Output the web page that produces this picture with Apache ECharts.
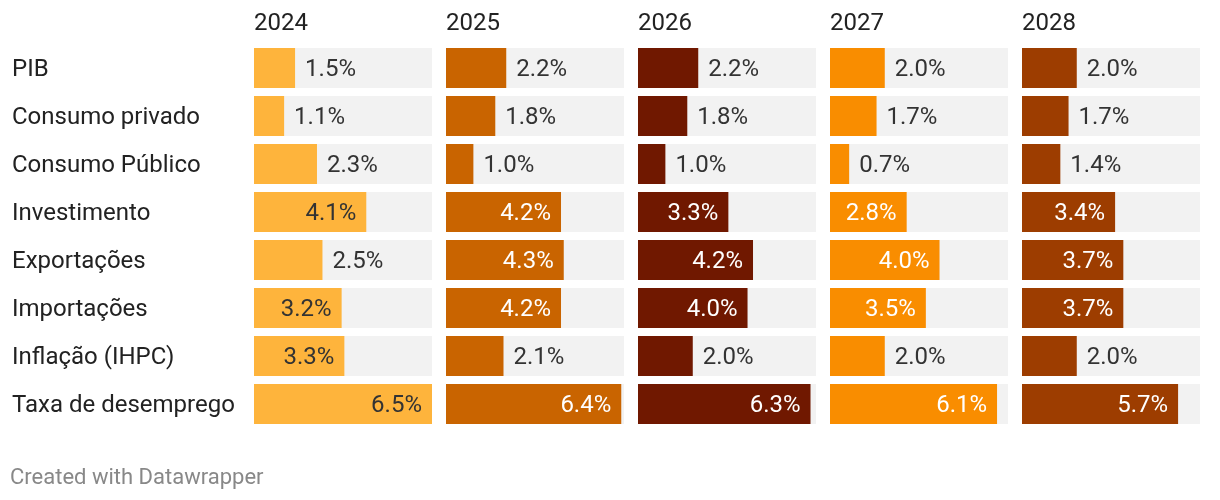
<!DOCTYPE html>
<html><head><meta charset="utf-8">
<script src="https://cdn.jsdelivr.net/npm/echarts@6/dist/echarts.min.js"></script>
<style>html,body{margin:0;padding:0;background:#fff}#c{width:1220px;height:500px}</style>
</head><body><div id="c"></div>
<script>
const categories = ["PIB","Consumo privado","Consumo Público","Investimento","Exportações","Importações","Inflação (IHPC)","Taxa de desemprego"];
const years = ["2024","2025","2026","2027","2028"];
const v2024 = [1.5,1.1,2.3,4.1,2.5,3.2,3.3,6.5];
const v2025 = [2.2,1.8,1.0,4.2,4.3,4.2,2.1,6.4];
const v2026 = [2.2,1.8,1.0,3.3,4.2,4.0,2.0,6.3];
const v2027 = [2.0,1.7,0.7,2.8,4.0,3.5,2.0,6.1];
const v2028 = [2.0,1.7,1.4,3.4,3.7,3.7,2.0,5.7];
const values = [v2024,v2025,v2026,v2027,v2028];
const colors = ["#feb43c","#c96400","#701800","#f98d00","#9d3d00"];
const insideTextColors = ["#333","#fff","#fff","#fff","#fff"];

const FONT = "Roboto";
const FS = 24;
const grids=[],xAxes=[],yAxes=[],series=[],titles=[];
years.forEach((y,i)=>{
  const left = 254 + i*192;
  grids.push({left:left, top:44, width:178, height:384});
  xAxes.push({gridIndex:i, type:'value', min:0, max:6.5, show:false});
  yAxes.push({gridIndex:i, type:'category', data:categories, inverse:true,
    axisLine:{show:false}, axisTick:{show:false}, splitLine:{show:false},
    axisLabel:{show:i===0, align:'left', margin:242, formatter:'{a|{value}}',
      rich:{a:{padding:[4,0,0,0], fontFamily:FONT, fontSize:FS, color:'#222'}},
      fontFamily:FONT, fontSize:FS, color:'#222'}});
  titles.push({text:y, left:left, top:12, padding:0, textStyle:{fontFamily:FONT, fontSize:FS, fontWeight:'normal', color:'#222'}});
  series.push({type:'bar', xAxisIndex:i, yAxisIndex:i, barWidth:40,
    showBackground:true, backgroundStyle:{color:'#f2f2f2'},
    itemStyle:{color:colors[i]},
    data: values[i].map(v=>{
      const inside = v >= 2.7;
      return {value:v, label:{show:true, position: inside?'insideRight':'right', distance:10, offset:[0,2],
        color: inside?insideTextColors[i]:'#333', fontFamily:FONT, fontSize:FS,
        formatter: v.toFixed(1)+'%'}};
    })
  });
});
const chart = echarts.init(document.getElementById('c'));
chart.setOption({
  animation:false,
  title:titles,
  grid:grids, xAxis:xAxes, yAxis:yAxes, series:series,
  graphic:[{type:'text', left:10, top:467, style:{text:'Created with Datawrapper', fontFamily:FONT, fontSize:22, fill:'#888'}}]
});
</script></body></html>
